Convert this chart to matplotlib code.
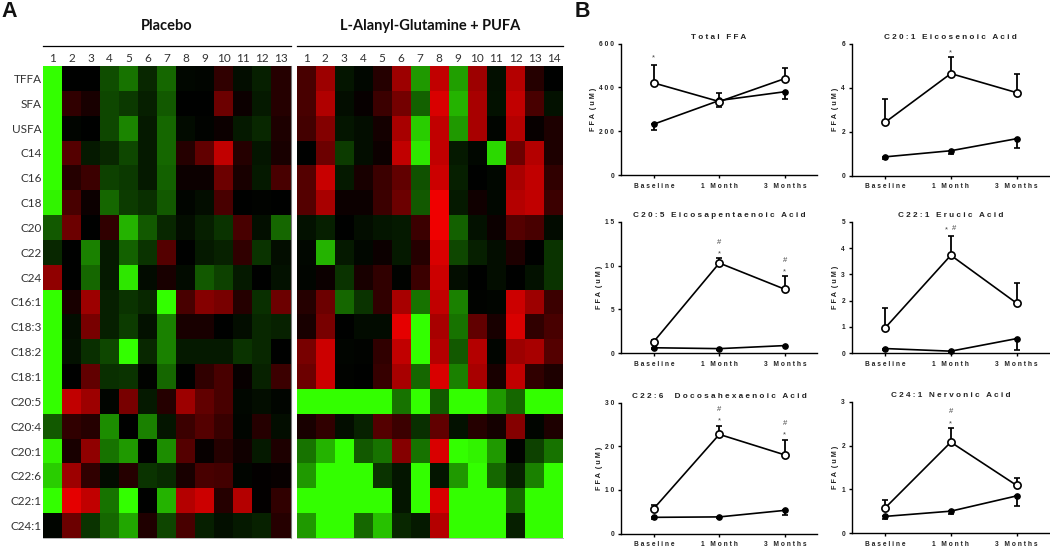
import numpy as np
import matplotlib
matplotlib.use("Agg")
import matplotlib.pyplot as plt
from matplotlib.colors import LinearSegmentedColormap

W, H = 1050, 548

# fatty acid labels of the heatmap rows
acidos = ["TFFA", "SFA", "USFA", "C14", "C16", "C18", "C20", "C22", "C24", "C16:1", "C18:3",
          "C18:2", "C18:1", "C20:5", "C20:4", "C20:1", "C22:6", "C22:1", "C24:1"]

# green = positive, red = negative on a -10..10 scale
placebo = [
    [10, 0, 0, 3, 4.5, 1.5, 4, .3, .2, -2, .5, 1.2, -1.5],
    [10, -2, -1, 2.8, 2.2, 1.2, 3.5, 0, 0, -4.5, -.5, 1, -1.5],
    [10, .2, 0, 2.8, 5.2, 1, 4, .4, .1, -.5, 1, 1.5, -1.2],
    [10, -3.5, 1, 1.5, 2.8, 1, 4, -1.5, -4, -8, -1.5, .8, -1],
    [10, -1.5, -2.5, 2.5, 2.2, 1, 3.8, -.5, -.5, -4.5, -1, 1, -3],
    [9.5, -3, -.5, 4, 2.3, 1.8, 3.5, .2, .5, -3, 0, .1, 0],
    [3.5, -4.5, 0, -2, 7, 3.5, 1.5, .5, 1.2, 2, -3, .6, 4],
    [1.5, 0, 5, 1, 3.8, 2, -3.5, 0, 1, 1.3, -2, 2, .5],
    [-6, 0, 4, 1, 9, .4, -1, .4, 3.5, 2.5, 1, 0, .7],
    [10, -1, -6.5, 1.2, 2, 1.5, 10, -3, -5.5, -5, -1.5, 1.8, -4.5],
    [10, .5, -5, 1.2, 2.3, .7, 5, -1, -1, 0, .5, 1.5, 1.3],
    [10, .7, 1.8, 2.8, 10, 1.5, 5, 1, 1, 1, 2, 1.5, 0],
    [10, 0, -4, 1.8, 2, .1, 4, 0, -2, -3, -.3, 1.3, -2.5],
    [10, -8, -6.5, .2, -5, 1, -1.5, -6.5, -4, -3, .3, .5, .2],
    [3.5, -2, -1.5, 5.5, 0, 5, .8, -2.5, -3.5, -2.3, .2, -1.5, .5],
    [9.5, -1, -6, 4.5, 6, 0, 5.5, -3.5, -.3, -1.5, -.7, 1, -1.2],
    [8, -6.5, -2, .4, -1.5, 2, 1.6, -1, -3, -2.8, .2, -.1, -.3],
    [10, -9.5, -8, 4.5, 10, 0, 7, -7.5, -8.5, -1.5, -7.5, -.1, -2],
    [.2, -4.5, 2, 4, 6.5, -1.3, 2.7, -3, 1.2, .6, 1, 1.3, -1.5],
]
tratamiento = [
    [-3, -6.5, .8, .3, -1.5, -6.5, 6, -8, 6.2, -6.5, .6, -7.5, -1.5, 0],
    [-3, -7.3, .5, -.3, -2.5, -4.8, 3.8, -9, 7, -7, .7, -8, -3, .7],
    [-2.8, -5.4, .8, .5, -.8, -7, 8, -8, 6, -7, .2, -7.5, -.3, -1.2],
    [0, -4.5, 2.3, .5, -.5, -8, 9, -8, 1, .3, 8.5, -4.5, -7.5, -1.2],
    [-3.5, -8.3, 1, -1, -2.5, -4, 3.2, -8.5, 1.2, 0, .3, -7, -8, -2],
    [-3.5, -7, -.5, -.5, -2.5, -4.5, 3.5, -10, 1, -.7, .3, -7.5, -8, -2.5],
    [.7, 1.2, 0, .5, .8, 1, -2.5, -10, 3.8, .7, -.5, -3.5, -3, .4],
    [.3, 7, 1, .3, -.5, 1, -1.5, -9, 2.8, 1.2, .5, -1.2, 0, 2],
    [.2, -.5, 2, -1, -2, .1, -2.5, -8.5, .5, 0, .5, 0, .7, 2],
    [-1.5, -4.5, 4, 2, -2, -7, 4.5, -8, 5, .1, .2, -8.5, -6.5, -2.5],
    [-1, -5, 0, .4, .4, -9.5, 10, -7, 4.5, -4, -1, -9, -2, -3],
    [-5, -8.5, .2, .1, -2, -8, 10, -7.5, 3.5, -7.5, .2, -6.5, -7, -3.5],
    [-4.5, -8.5, .1, 0, -2.2, -7, 4, -9, 5, -7, -1, -8, -2, -1.2],
    [10, 10, 10, 10, 10, 4.5, 10, 3.5, 10, 10, 6, 4, 10, 10],
    [-1, -2, .5, 1.3, -3.5, -2.5, 1.8, -4, .7, -1.5, -.8, -5.5, .2, -1.2],
    [4.5, 7, 10, 3.5, 4.5, -5.5, 4.5, -9, 10, 9.5, 6, .1, 2.5, 4.5],
    [6, 10, 10, 10, 2, .8, 10, .8, 6, 10, 4, 1.2, 5, 10],
    [10, 10, 10, 10, 10, .8, 10, -9, 10, 10, 10, 4, 10, 10],
    [6, 10, 10, 4, 7.5, 1.5, 1, -7.5, 10, 10, 10, 1.2, 10, 10],
]

# panel B
tiempos = ["Baseline", "1 Month", "3 Months"]
titulos = ["Total FFA", "C20:1 Eicosenoic Acid", "C20:5 Eicosapentaenoic Acid",
           "C22:1 Erucic Acid", "C22:6  Docosahexaenoic Acid", "C24:1 Nervonic Acid"]
y_max = [600, 6, 15, 5, 30, 3]
y_paso = [200, 2, 5, 1, 10, 1]
abierto = [[420, 335, 440], [2.42, 4.65, 3.78], [1.3, 10.3, 7.3],
           [.95, 3.73, 1.9], [5.7, 22.7, 18], [.57, 2.08, 1.09]]
abierto_sup = [[500, 375, 487], [3.5, 5.4, 4.62], [1.5, 10.9, 8.8],
               [1.7, 4.48, 2.67], [6.5, 24.7, 21.3], [.75, 2.4, 1.27]]
lleno = [[232, 340, 380], [.85, 1.13, 1.68], [.6, .5, .85],
         [.17, .07, .55], [3.7, 3.8, 5.3], [.38, .5, .85]]
lleno_inf = [[205, 310, 347], [.75, 1.0, 1.25], [.45, .4, .75],
             [.12, .03, .1], [3.4, 3.5, 4.3], [.31, .44, .62]]
# significance marks: panel, x, y, sign
marcas = [(0, 0, 535, "*"), (1, 1, 5.6, "*"),
          (2, 1, 11.3, "*"), (2, 1, 12.7, "#"), (2, 2, 9.3, "*"), (2, 2, 10.6, "#"),
          (3, .93, 4.7, "*"), (3, 1.05, 4.75, "#"),
          (4, 1, 25.9, "*"), (4, 1, 28.5, "#"), (4, 2, 22.5, "*"), (4, 2, 25.2, "#"),
          (5, 1, 2.5, "*"), (5, 1, 2.78, "#")]

# pixel boxes of the panel B axes: left, top, right, bottom
cajas = [(621, 43.5, 817, 175), (852, 44, 1049, 175.5), (621, 222, 817, 353),
         (852, 222, 1049, 353), (621, 402.5, 817, 533.5), (852, 402, 1049, 533)]


def ejes_px(x0, y0, x1, y1):
    return fig.add_axes([x0 / W, 1 - y1 / H, (x1 - x0) / W, (y1 - y0) / H])


def espaciado(s):
    return " ".join(s)


def heatmap(x0, x1, datos, titulo, y_lab):
    ax = ejes_px(x0, 66, x1, 538)
    m = np.array(datos)
    ax.pcolormesh(m, cmap=verde_rojo, vmin=-10, vmax=10, edgecolors="none", rasterized=True)
    ax.invert_yaxis()
    ax.set_xticks(np.arange(m.shape[1]) + 0.5, [str(i + 1) for i in range(m.shape[1])])
    ax.xaxis.tick_top()
    ax.tick_params(axis="x", length=0, pad=1.5, labelsize=8.5, labelcolor="#333333")
    if y_lab:
        ax.set_yticks(np.arange(m.shape[0]) + 0.5, acidos)
        ax.tick_params(axis="y", length=0, pad=1, labelsize=8.5, labelcolor="#333333")
    else:
        ax.set_yticks([])
    for lado in ax.spines.values():
        lado.set_visible(False)
    ax.spines["bottom"].set_visible(True)
    ax.spines["bottom"].set_color("#aaaaaa")
    ax.spines["bottom"].set_linewidth(0.6)
    if y_lab:
        ax.spines["right"].set_visible(True)
        ax.spines["right"].set_color("#777777")
        ax.spines["right"].set_linewidth(0.8)
    # bracket line and group title above the columns
    fig.add_artist(plt.Line2D([x0 / W, x1 / W], [1 - 45.5 / H] * 2, color="black", lw=0.9))
    fig.text((x0 + x1) / 2 / W, 1 - 26 / H, titulo, ha="center", va="center",
             fontsize=10.5, fontweight="bold", color="#111111")


plt.rcParams["font.family"] = ["Lato", "DejaVu Sans"]
fig = plt.figure(figsize=(W / 100, H / 100), dpi=100)

verde_rojo = LinearSegmentedColormap.from_list("vr", ["#f00000", "#000000", "#33ff00"])
heatmap(43, 290.5, placebo, "Placebo", True)
heatmap(296.5, 563, tratamiento, "L-Alanyl-Glutamine + PUFA", False)

fig.text(1 / W, 1 - 17 / H, "A", fontsize=15.5, fontweight="bold", family="Liberation Sans", color="#111111")
fig.text(575 / W, 1 - 17 / H, "B", fontsize=15.5, fontweight="bold", family="Liberation Sans", color="#111111")

for i, caja in enumerate(cajas):
    ax = ejes_px(*caja)
    x = np.arange(3)
    sup = np.array(abierto_sup[i]) - np.array(abierto[i])
    inf = np.array(lleno[i]) - np.array(lleno_inf[i])
    ax.errorbar(x, lleno[i], yerr=[inf, np.zeros(3)], color="black", lw=1.2, marker="o", ms=3.8,
                capsize=2, elinewidth=1.3, capthick=1.2, zorder=3, clip_on=False)
    ax.errorbar(x, abierto[i], yerr=[np.zeros(3), sup], color="black", lw=1.2, marker="o", ms=5.2,
                mfc="white", mec="black", mew=1.2, capsize=2, elinewidth=1.3, capthick=1.2, zorder=4)
    ax.set_xlim(-0.5, 2.49)
    ax.set_ylim(0, y_max[i])
    ax.set_xticks(x, [espaciado(t) for t in tiempos])
    ticks = np.arange(0, y_max[i] + y_paso[i] / 2, y_paso[i])
    ax.set_yticks(ticks, [espaciado(str(int(t))) for t in ticks])
    ax.tick_params(length=2.5, width=1.0, labelsize=4.8, labelcolor="#222222", labelfontfamily="Liberation Sans")
    ax.tick_params(axis="x", pad=3.2)
    ax.tick_params(axis="y", pad=2.5)
    for lab in ax.get_xticklabels() + ax.get_yticklabels():
        lab.set_fontweight("bold")
    ax.spines["top"].set_visible(False)
    ax.spines["right"].set_visible(False)
    ax.spines["left"].set_linewidth(1.0)
    ax.spines["bottom"].set_linewidth(1.0)
    ax.set_ylabel("F F A  ( u M )", fontsize=5.2, fontweight="bold", family="Liberation Sans", labelpad=1.5, color="#222222")
    ax.set_title(espaciado(titulos[i]), fontsize=5.9, fontweight="bold", family="Liberation Sans", pad=3.5, color="#222222")
    for p, mx, my, signo in marcas:
        if p == i:
            ax.text(mx, my, signo, ha="center", va="center", fontsize=5.5, color="#444444",
                    family="Liberation Sans")

fig.savefig("out.png", dpi=100)
